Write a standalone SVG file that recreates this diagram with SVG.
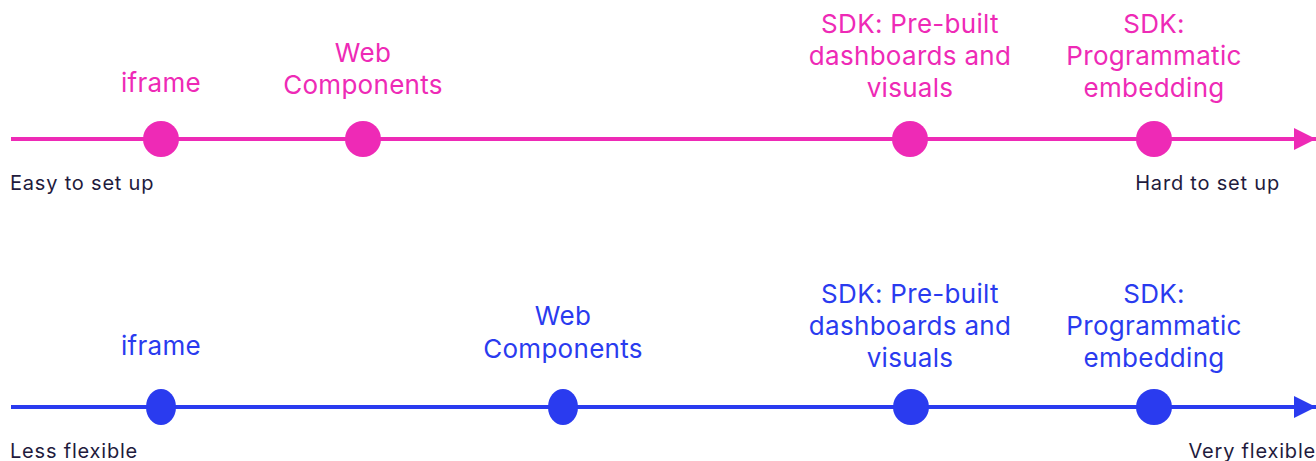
<svg xmlns="http://www.w3.org/2000/svg" width="1316" height="461" viewBox="0 0 1316 461">
  <style>
    .lbl { font-family: Inter, "Noto Sans", sans-serif; font-size: 26px; letter-spacing: 0.3px; text-anchor: middle; }
    .pink { fill: #ee2ab6; }
    .blue { fill: #2a3bef; }
    .end { font-family: Inter, "Noto Sans", sans-serif; font-size: 20px; letter-spacing: 0.8px; fill: #1f1b3d; }
    .axis-pink { stroke: #ee2ab6; stroke-width: 4; fill: none; }
    .axis-blue { stroke: #2a3bef; stroke-width: 4; fill: none; }
  </style>
  <defs>
    <marker id="headPink" viewBox="0 0 10 10" refX="10" refY="5" markerUnits="userSpaceOnUse" markerWidth="38" markerHeight="22" orient="auto">
      <path d="M0,0 L10,5 L0,10 Z" fill="#ee2ab6"/>
    </marker>
    <marker id="headBlue" viewBox="0 0 10 10" refX="10" refY="5" markerUnits="userSpaceOnUse" markerWidth="38" markerHeight="22" orient="auto">
      <path d="M0,0 L10,5 L0,10 Z" fill="#2a3bef"/>
    </marker>
  </defs>

  <!-- axes -->
  <g id="connectors">
    <line class="axis-pink" x1="11" y1="139" x2="1316" y2="139" marker-end="url(#headPink)"/>
    <line class="axis-blue" x1="11" y1="407" x2="1316" y2="407" marker-end="url(#headBlue)"/>
  </g>

  <!-- setup effort scale -->
  <g id="setup-iframe">
    <circle class="pink" cx="161" cy="139" r="18"/>
    <text class="lbl pink" x="161" y="92">iframe</text>
  </g>
  <g id="setup-web-components">
    <circle class="pink" cx="363" cy="139" r="18"/>
    <text class="lbl pink" x="363" y="62">Web</text>
    <text class="lbl pink" x="363" y="94">Components</text>
  </g>
  <g id="setup-sdk-prebuilt">
    <circle class="pink" cx="910" cy="139" r="18"/>
    <text class="lbl pink" x="910" y="33">SDK: Pre-built</text>
    <text class="lbl pink" x="910" y="65">dashboards and</text>
    <text class="lbl pink" x="910" y="97">visuals</text>
  </g>
  <g id="setup-sdk-programmatic">
    <circle class="pink" cx="1154" cy="139" r="18"/>
    <text class="lbl pink" x="1154" y="33">SDK:</text>
    <text class="lbl pink" x="1154" y="65">Programmatic</text>
    <text class="lbl pink" x="1154" y="97">embedding</text>
  </g>
  <g id="setup-ends">
    <text class="end" x="10" y="190">Easy to set up</text>
    <text class="end" x="1280" y="190" text-anchor="end">Hard to set up</text>
  </g>

  <!-- flexibility scale -->
  <g id="flex-iframe">
    <ellipse class="blue" cx="161" cy="407" rx="15" ry="18"/>
    <text class="lbl blue" x="161" y="355">iframe</text>
  </g>
  <g id="flex-web-components">
    <ellipse class="blue" cx="563" cy="407" rx="15" ry="18"/>
    <text class="lbl blue" x="563" y="325">Web</text>
    <text class="lbl blue" x="563" y="358">Components</text>
  </g>
  <g id="flex-sdk-prebuilt">
    <circle class="blue" cx="911" cy="407" r="18"/>
    <text class="lbl blue" x="910" y="303">SDK: Pre-built</text>
    <text class="lbl blue" x="910" y="335">dashboards and</text>
    <text class="lbl blue" x="910" y="367">visuals</text>
  </g>
  <g id="flex-sdk-programmatic">
    <circle class="blue" cx="1154" cy="407" r="18"/>
    <text class="lbl blue" x="1154" y="303">SDK:</text>
    <text class="lbl blue" x="1154" y="335">Programmatic</text>
    <text class="lbl blue" x="1154" y="367">embedding</text>
  </g>
  <g id="flex-ends">
    <text class="end" x="10" y="458">Less flexible</text>
    <text class="end" x="1316" y="458" text-anchor="end">Very flexible</text>
  </g>
</svg>
